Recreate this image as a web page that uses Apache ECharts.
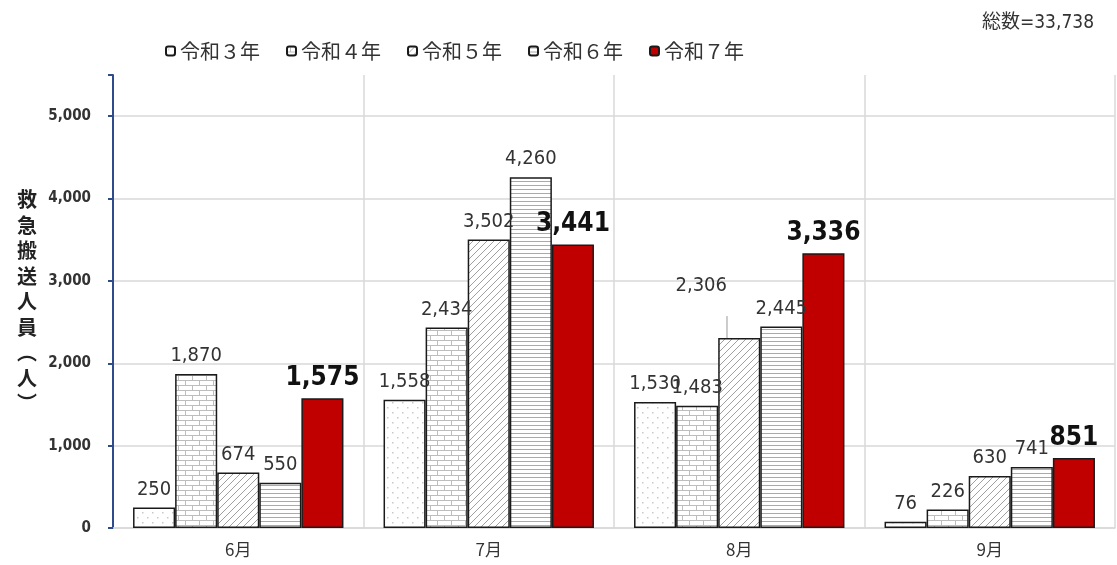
<!DOCTYPE html>
<html>
<head>
<meta charset="utf-8">
<script src="https://cdn.jsdelivr.net/npm/echarts@6/dist/echarts.min.js"></script>
<style>html,body{margin:0;padding:0;background:#fff}#c{width:1117px;height:565px}</style>
</head>
<body>
<div id="c"></div>
<script>
const categories = ['6月', '7月', '8月', '9月'];
const seriesNames = ['令和３年', '令和４年', '令和５年', '令和６年', '令和７年'];
const r3 = [250, 1558, 1530, 76];
const r4 = [1870, 2434, 1483, 226];
const r5 = [674, 3502, 2306, 630];
const r6 = [550, 4260, 2445, 741];
const r7 = [1575, 3441, 3336, 851];
const yTicks = [0, 1000, 2000, 3000, 4000, 5000];
const totalText = '総数=33,738';
const yName = ['救', '急', '搬', '送', '人', '員', '︵', '人', '︶'];

function makePattern(kind) {
  const c = document.createElement('canvas');
  const ctx = c.getContext('2d');
  if (kind === 'dots') {
    c.width = 10; c.height = 10;
    ctx.fillStyle = '#fff'; ctx.fillRect(0, 0, 10, 10);
    ctx.fillStyle = '#c8c8c8';
    ctx.fillRect(2, 2, 1.5, 1.5); ctx.fillRect(7, 7, 1.5, 1.5);
  } else if (kind === 'brick') {
    c.width = 14; c.height = 10;
    ctx.fillStyle = '#fff'; ctx.fillRect(0, 0, 14, 10);
    ctx.strokeStyle = '#bdbdbd'; ctx.lineWidth = 1;
    ctx.beginPath();
    ctx.moveTo(0, 0.5); ctx.lineTo(14, 0.5);
    ctx.moveTo(0, 5.5); ctx.lineTo(14, 5.5);
    ctx.moveTo(3.5, 0.5); ctx.lineTo(3.5, 5.5);
    ctx.moveTo(10.5, 5.5); ctx.lineTo(10.5, 10);
    ctx.stroke();
  } else if (kind === 'diag') {
    c.width = 7; c.height = 7;
    ctx.fillStyle = '#fff'; ctx.fillRect(0, 0, 7, 7);
    ctx.strokeStyle = '#a0a0a0'; ctx.lineWidth = 1;
    ctx.beginPath();
    ctx.moveTo(-1, 8); ctx.lineTo(8, -1);
    ctx.moveTo(-1, 1); ctx.lineTo(1, -1);
    ctx.moveTo(6, 8); ctx.lineTo(8, 6);
    ctx.stroke();
  } else if (kind === 'horiz') {
    c.width = 4; c.height = 4;
    ctx.fillStyle = '#fff'; ctx.fillRect(0, 0, 4, 4);
    ctx.strokeStyle = '#aaaaaa'; ctx.lineWidth = 1;
    ctx.beginPath(); ctx.moveTo(0, 1.5); ctx.lineTo(4, 1.5); ctx.stroke();
  }
  return { image: c, repeat: 'repeat' };
}

const fills = [makePattern('dots'), makePattern('brick'), makePattern('diag'), makePattern('horiz'), '#C00000'];
const values = [r3, r4, r5, r6, r7];
const numFont = '"DejaVu Sans Condensed", "Noto Sans CJK JP", sans-serif';
const jpFont = '"Noto Sans CJK JP", sans-serif';

const series = seriesNames.map((name, i) => {
  const isLast = i === 4;
  return {
    name: name,
    type: 'bar',
    barGap: '0%',
    barCategoryGap: '16%',
    itemStyle: { color: fills[i], borderColor: '#1a1a1a', borderWidth: 1.5 },
    label: {
      show: true,
      position: 'top',
      distance: isLast ? 7 : 8,
      formatter: p => p.value.toLocaleString('en-US'),
      fontFamily: numFont,
      fontSize: isLast ? 26 : 20,
      fontWeight: isLast ? 'bold' : 'normal',
      color: isLast ? '#111' : '#333'
    },
    labelLine: { show: true, lineStyle: { color: '#999', width: 1 } },
    data: values[i].map((v, j) => {
      if (i === 2 && j === 2) {
        return { value: v, label: { offset: [-38, -34] } };
      }
      return v;
    })
  };
});

const chart = echarts.init(document.getElementById('c'));
chart.setOption({
  backgroundColor: '#fff',
  animation: false,
  title: {
    text: totalText,
    right: 18,
    top: 9,
    textStyle: { fontSize: 19, fontWeight: 'normal', color: '#333', fontFamily: numFont }
  },
  legend: {
    top: 36,
    left: 160,
    itemWidth: 9,
    itemHeight: 9,
    itemGap: 26,
    textStyle: { fontSize: 20, color: '#333', fontFamily: jpFont },
    data: seriesNames
  },
  grid: { left: 113, right: 2, top: 75, bottom: 37, containLabel: false },
  xAxis: {
    type: 'category',
    data: categories,
    axisLine: { lineStyle: { color: '#d9d9d9', width: 1.5 } },
    axisTick: { show: false },
    axisLabel: { fontSize: 17, color: '#333', margin: 13, fontFamily: jpFont },
    splitLine: { show: true, lineStyle: { color: '#d9d9d9', width: 1.5 } }
  },
  yAxis: {
    type: 'value',
    min: 0,
    max: 5500,
    interval: 1000,
    name: yName.join('\n'),
    nameLocation: 'middle',
    nameRotate: 0,
    nameGap: 76,
    nameTextStyle: { fontSize: 20, fontWeight: 'bold', color: '#222', lineHeight: 25.5, fontFamily: jpFont },
    axisLine: { show: true, lineStyle: { color: '#2E4C8C', width: 2 } },
    axisTick: { show: true, length: 5, lineStyle: { color: '#2E4C8C', width: 2 } },
    axisLabel: {
      fontSize: 15,
      fontWeight: 'bold',
      color: '#333',
      margin: 22,
      fontFamily: numFont,
      formatter: v => (yTicks.indexOf(v) >= 0 ? v.toLocaleString('en-US') : '')
    },
    splitLine: { show: true, showMaxLine: false, lineStyle: { color: '#d9d9d9', width: 1.5 } }
  },
  series: series
});
</script>
</body>
</html>
